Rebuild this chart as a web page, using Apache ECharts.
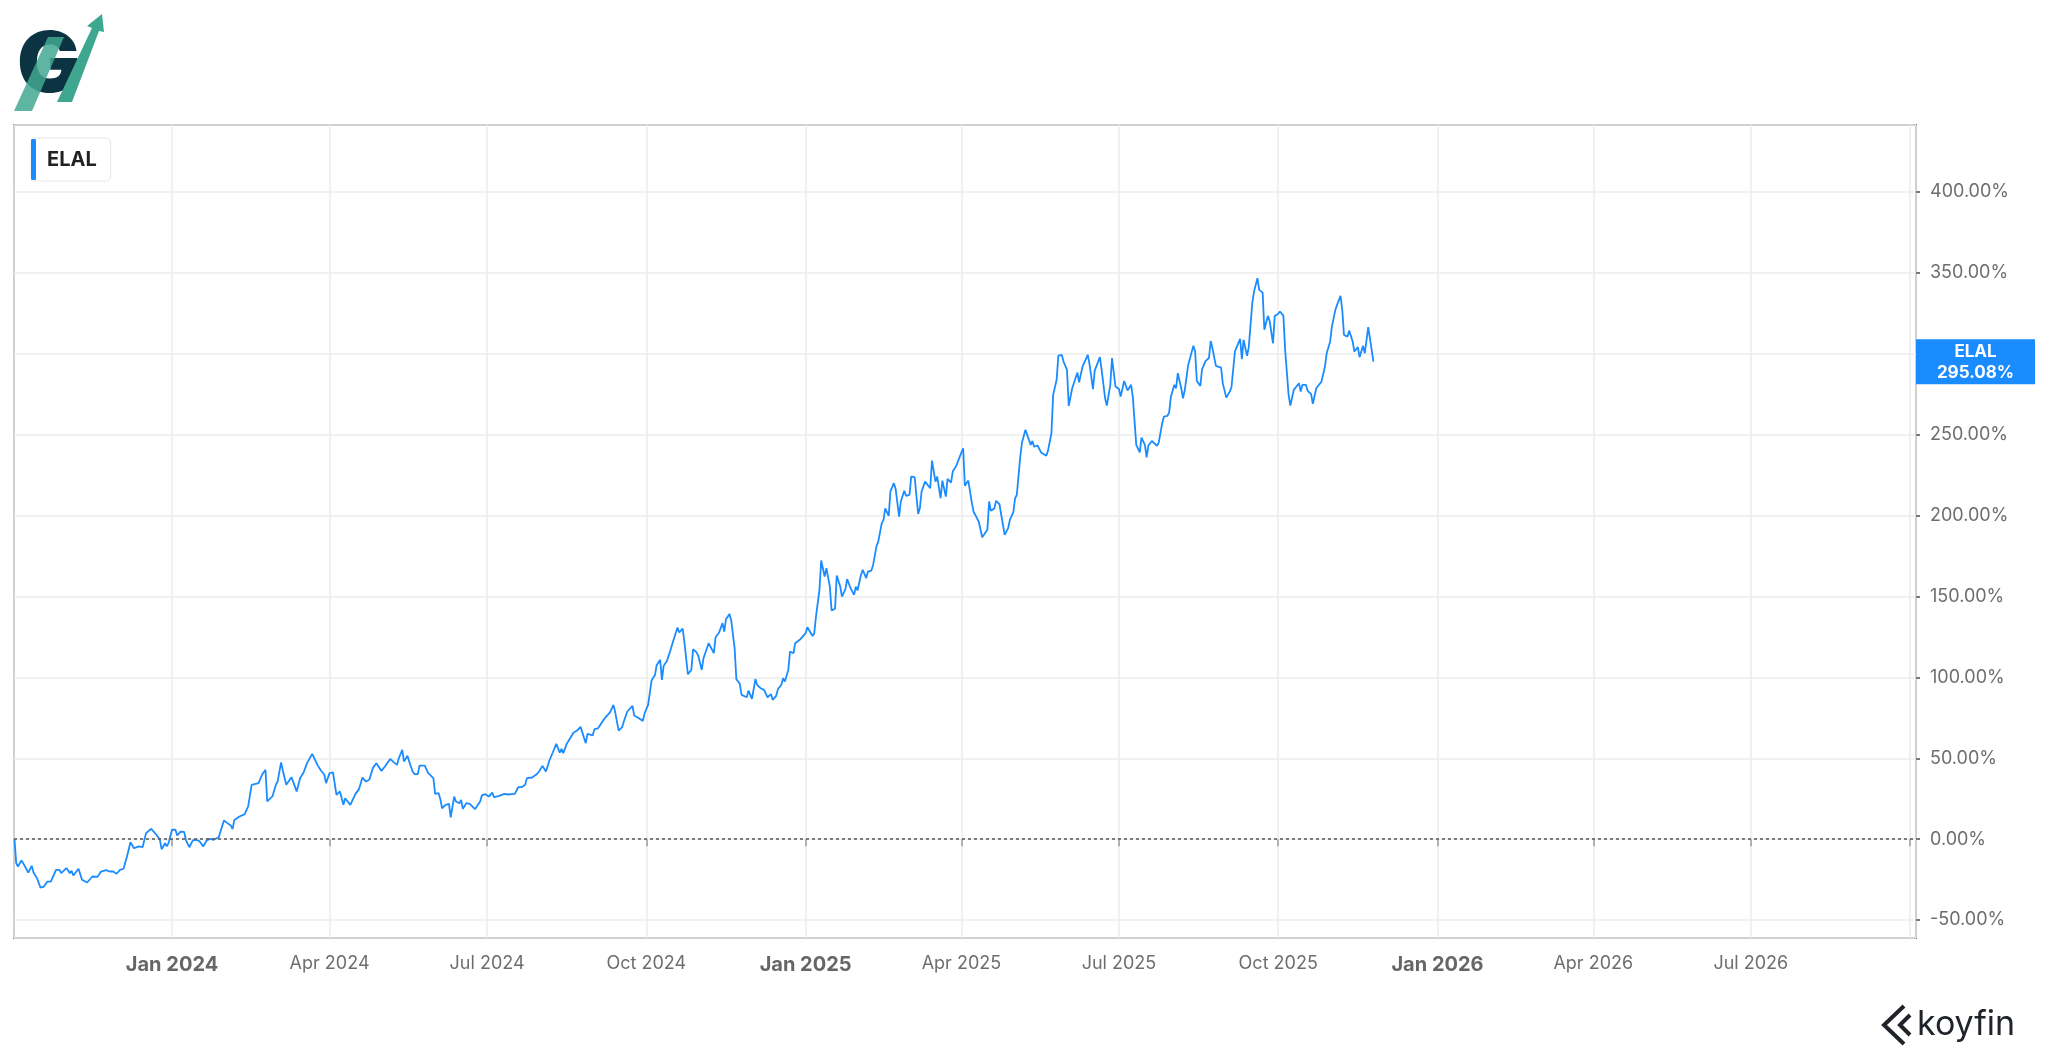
<!DOCTYPE html>
<html>
<head>
<meta charset="utf-8">
<script src="https://cdn.jsdelivr.net/npm/echarts@6/dist/echarts.min.js"></script>
<style>
html,body{margin:0;padding:0;background:#ffffff;}
#chart{width:2048px;height:1059px;}
</style>
</head>
<body>
<div id="chart"></div>
<script>
const seriesName = 'ELAL';
const lastLabel = '295.08%';
const lastValue = 295.08;

const dates = [
'2023-10-02','2023-10-03','2023-10-04','2023-10-06','2023-10-07','2023-10-08','2023-10-10','2023-10-12','2023-10-13','2023-10-15',
'2023-10-17','2023-10-19','2023-10-21','2023-10-22','2023-10-23','2023-10-26','2023-10-28','2023-10-29','2023-11-01','2023-11-03',
'2023-11-04','2023-11-05','2023-11-08','2023-11-10','2023-11-13','2023-11-16','2023-11-19','2023-11-21','2023-11-24','2023-11-26',
'2023-11-28','2023-11-30','2023-12-02','2023-12-04','2023-12-06','2023-12-08','2023-12-10','2023-12-13','2023-12-15','2023-12-17',
'2023-12-20','2023-12-23','2023-12-25','2023-12-26','2023-12-28','2023-12-29','2023-12-30','2024-01-01','2024-01-03','2024-01-04',
'2024-01-06','2024-01-08','2024-01-09','2024-01-11','2024-01-13','2024-01-15','2024-01-17','2024-01-19','2024-01-21','2024-01-23',
'2024-01-25','2024-01-28','2024-01-31','2024-02-02','2024-02-04','2024-02-05','2024-02-06','2024-02-07','2024-02-09','2024-02-12',
'2024-02-14','2024-02-16','2024-02-20','2024-02-22','2024-02-24','2024-02-25','2024-02-28','2024-03-01','2024-03-02','2024-03-04',
'2024-03-05','2024-03-07','2024-03-10','2024-03-13','2024-03-15','2024-03-17','2024-03-19','2024-03-22','2024-03-25','2024-03-27',
'2024-03-29','2024-03-30','2024-04-01','2024-04-03','2024-04-05','2024-04-07','2024-04-09','2024-04-10','2024-04-11','2024-04-13',
'2024-04-16','2024-04-18','2024-04-20','2024-04-22','2024-04-24',
'2024-04-26','2024-04-28','2024-04-29','2024-05-01','2024-05-03','2024-05-06','2024-05-08','2024-05-10','2024-05-11','2024-05-13',
'2024-05-14','2024-05-16','2024-05-17','2024-05-19','2024-05-20','2024-05-22','2024-05-23','2024-05-26','2024-05-28','2024-05-29',
'2024-05-31','2024-06-01','2024-06-03','2024-06-04','2024-06-05','2024-06-07','2024-06-09','2024-06-10','2024-06-12','2024-06-13',
'2024-06-15','2024-06-16','2024-06-17','2024-06-19','2024-06-21','2024-06-22','2024-06-24','2024-06-25','2024-06-27','2024-06-28',
'2024-06-30','2024-07-02','2024-07-04','2024-07-05','2024-07-06','2024-07-08','2024-07-09','2024-07-11','2024-07-13','2024-07-17',
'2024-07-19','2024-07-21','2024-07-23','2024-07-24','2024-07-27','2024-07-30','2024-07-31','2024-08-02','2024-08-03','2024-08-04',
'2024-08-06','2024-08-08','2024-08-09','2024-08-10','2024-08-12','2024-08-13','2024-08-14','2024-08-16','2024-08-18','2024-08-20',
'2024-08-22','2024-08-24','2024-08-25','2024-08-27','2024-08-28','2024-08-29','2024-08-31','2024-09-01','2024-09-03','2024-09-05',
'2024-09-07','2024-09-10','2024-09-12','2024-09-13','2024-09-15','2024-09-17','2024-09-18','2024-09-20','2024-09-21','2024-09-23',
'2024-09-24','2024-09-26','2024-09-27','2024-09-29','2024-09-30','2024-10-02','2024-10-03','2024-10-04','2024-10-06','2024-10-07',
'2024-10-09','2024-10-10','2024-10-11','2024-10-13','2024-10-15','2024-10-17','2024-10-19','2024-10-20','2024-10-22','2024-10-23',
'2024-10-25','2024-10-27','2024-10-28','2024-10-30','2024-10-31','2024-11-02','2024-11-03','2024-11-04','2024-11-06','2024-11-07',
'2024-11-09','2024-11-10','2024-11-12','2024-11-14','2024-11-15','2024-11-16','2024-11-18','2024-11-19','2024-11-21','2024-11-22',
'2024-11-24','2024-11-25','2024-11-26','2024-11-28','2024-11-29','2024-12-01','2024-12-03','2024-12-04','2024-12-06','2024-12-08',
'2024-12-09','2024-12-10','2024-12-12','2024-12-13','2024-12-15','2024-12-16','2024-12-18','2024-12-19','2024-12-20','2024-12-22',
'2024-12-23','2024-12-25','2024-12-26','2024-12-29',
'2025-01-01','2025-01-02','2025-01-03','2025-01-05','2025-01-06','2025-01-07','2025-01-09','2025-01-10','2025-01-12','2025-01-13',
'2025-01-15','2025-01-16','2025-01-18','2025-01-19','2025-01-21','2025-01-22','2025-01-24','2025-01-25','2025-01-27','2025-01-29',
'2025-01-30','2025-01-31','2025-02-02','2025-02-03','2025-02-05','2025-02-06','2025-02-08','2025-02-09','2025-02-11','2025-02-12',
'2025-02-14','2025-02-15','2025-02-16','2025-02-18','2025-02-19','2025-02-21','2025-02-22','2025-02-24','2025-02-25','2025-02-27',
'2025-02-28','2025-03-02','2025-03-03','2025-03-05','2025-03-07','2025-03-08','2025-03-09','2025-03-11','2025-03-12','2025-03-14',
'2025-03-15','2025-03-17','2025-03-18','2025-03-20','2025-03-21','2025-03-23','2025-03-24','2025-03-26','2025-03-27','2025-03-29',
'2025-03-30','2025-04-01','2025-04-02','2025-04-03','2025-04-05','2025-04-07','2025-04-08','2025-04-09','2025-04-11','2025-04-13',
'2025-04-14','2025-04-16','2025-04-17','2025-04-18','2025-04-20','2025-04-21','2025-04-23','2025-04-24','2025-04-26','2025-04-28',
'2025-04-29','2025-05-01','2025-05-02','2025-05-03','2025-05-05','2025-05-06','2025-05-08','2025-05-09','2025-05-11','2025-05-12',
'2025-05-13','2025-05-15','2025-05-17','2025-05-18','2025-05-20','2025-05-21','2025-05-23','2025-05-24','2025-05-26','2025-05-27',
'2025-05-29','2025-05-30','2025-06-01','2025-06-02','2025-06-04','2025-06-05','2025-06-07','2025-06-08','2025-06-10','2025-06-11',
'2025-06-13','2025-06-14','2025-06-16','2025-06-17',
'2025-06-20','2025-06-21','2025-06-23','2025-06-24','2025-06-26','2025-06-27','2025-06-29','2025-07-01','2025-07-02','2025-07-04',
'2025-07-05','2025-07-06','2025-07-08','2025-07-09','2025-07-11','2025-07-13','2025-07-14','2025-07-16','2025-07-17','2025-07-18',
'2025-07-20','2025-07-21','2025-07-23','2025-07-24','2025-07-26','2025-07-27','2025-07-29','2025-07-30','2025-07-31','2025-08-02',
'2025-08-03','2025-08-04','2025-08-06','2025-08-07','2025-08-08','2025-08-10','2025-08-13','2025-08-14','2025-08-15','2025-08-17',
'2025-08-18','2025-08-20','2025-08-22','2025-08-23','2025-08-24','2025-08-26','2025-08-27','2025-08-29','2025-08-30','2025-09-01',
'2025-09-03','2025-09-04','2025-09-06','2025-09-07','2025-09-09','2025-09-10','2025-09-11','2025-09-13','2025-09-14','2025-09-16',
'2025-09-17','2025-09-19','2025-09-20','2025-09-22','2025-09-23','2025-09-25','2025-09-26','2025-09-28','2025-09-29','2025-10-01',
'2025-10-02','2025-10-04','2025-10-05','2025-10-07','2025-10-08','2025-10-10','2025-10-11','2025-10-13','2025-10-14','2025-10-15',
'2025-10-17','2025-10-18','2025-10-20','2025-10-21','2025-10-23','2025-10-24','2025-10-26','2025-10-28','2025-10-29','2025-10-31',
'2025-11-01','2025-11-03','2025-11-04','2025-11-06','2025-11-07','2025-11-08','2025-11-10','2025-11-11','2025-11-13','2025-11-14',
'2025-11-16','2025-11-17','2025-11-19','2025-11-20','2025-11-22','2025-11-23','2025-11-25'
];

const values = [
0,-14.8,-16.9,-13.2,-14.8,-14.4,-20.6,-16.5,-20.6,-24.1,
-29.9,-29.3,-26.2,-25.5,-26.2,-19.0,-19.0,-21.0,-17.9,-21.0,
-19.6,-22.5,-18.3,-25.1,-26.8,-23.1,-23.3,-20.0,-19.2,-20.0,
-20.0,-21.4,-19.0,-18.3,-10.7,-1.9,-5.6,-4.5,-5.0,3.7,
6.4,2.7,-0.4,-6.2,-2.5,-4.5,-2.5,5.8,5.8,2.3,
4.7,4.5,-0.4,-5.0,-0.8,-0.4,-1.4,-4.5,-0.8,0.2,
-0.4,1.2,11.5,9.9,8.4,6.2,11.9,10.9,14.0,15.5,
20.2,33.6,34.6,39.8,42.9,23.3,26.4,33.6,35.6,47.4,
42.4,33.6,38.3,29.5,37.7,41.2,47.0,52.7,45.9,42.4,
39.8,34.6,40.8,41.2,27.4,29.5,21.2,25.3,25.3,21.2,
28.0,30.9,38.1,35.6,36.7,
43.9,46.9,48.0,42.2,44.9,49.6,47.6,45.9,50.0,55.2,
48.0,51.5,48.0,41.8,40.2,40.2,45.5,45.5,40.8,41.4,
37.7,28.0,28.4,24.7,19.1,21.2,21.8,13.4,26.3,23.3,
22.2,24.3,18.7,22.2,21.8,21.6,18.5,17.7,23.3,27.0,
27.8,26.3,28.8,25.9,27.0,26.8,28.0,28.0,27.6,28.0,
32.1,32.1,33.6,37.7,38.1,40.4,41.8,45.3,46.3,41.8,
48.6,53.7,54.6,58.9,53.5,55.8,53.1,58.9,62.4,65.9,
67.1,69.4,68.6,59.3,65.1,65.9,64.1,68.0,68.4,71.7,
74.8,78.3,83.0,78.5,67.1,69.2,72.7,78.9,79.5,82.4,
76.4,75.2,75.8,73.1,77.8,83.0,90.2,98.0,101.5,107.7,
110.8,98.4,107.1,110.4,117.0,124.2,130.8,127.7,130.2,121.7,
101.9,104.6,117.4,115.4,113.3,104.6,111.8,110.8,121.1,121.5,
115.0,124.8,127.7,133.5,128.3,135.9,139.2,135.5,118.0,98.9,
96.0,89.2,90.2,87.7,91.8,86.7,98.9,95.4,93.3,92.3,
92.5,87.7,89.6,86.1,88.6,92.7,95.4,99.5,97.4,104.6,
115.9,114.9,121.1,123.6,
127.3,131.0,131.8,125.6,127.3,137.6,154.1,172.2,162.3,167.5,
156.1,141.3,142.5,162.9,156.1,149.9,154.5,160.7,155.1,151.0,
156.1,153.7,163.4,166.4,161.3,165.4,166.0,169.5,181.3,184.0,
195.3,197.3,204.5,199.8,214.9,220.0,216.5,199.4,208.7,215.3,
212.2,212.8,224.1,223.7,201.0,204.5,214.9,221.0,220.6,216.9,
234.0,221.0,224.1,210.7,221.6,211.7,222.7,220.4,227.2,230.7,
230.9,239.0,241.6,218.4,221.6,208.0,202.5,202.5,196.3,186.6,
186.6,191.2,208.7,202.9,204.3,209.1,207.0,200.4,188.1,192.2,
197.3,202.1,210.7,212.8,236.5,245.1,253.0,251.9,243.7,246.1,
242.6,243.3,239.0,240.0,237.0,240.0,250.9,274.6,283.9,298.9,
299.3,295.2,290.0,267.8,278.7,279.8,288.4,282.4,292.2,293.2,
299.3,293.6,278.1,289.6,
297.9,290.0,272.5,268.0,280.8,297.3,279.7,278.3,273.5,283.2,
282.8,277.3,280.8,273.5,243.7,239.0,248.2,243.7,236.0,243.3,
246.1,246.8,243.1,245.2,257.1,261.2,261.6,263.7,273.5,280.8,
278.7,288.0,278.7,272.5,277.3,293.1,304.9,301.4,283.2,280.1,
290.4,295.5,297.4,307.9,303.4,292.5,293.1,291.4,281.7,272.9,
276.6,279.3,301.4,304.1,309.2,296.7,308.6,298.7,304.1,331.2,
338.4,346.7,339.5,337.8,314.8,323.4,320.5,306.5,323.4,324.7,
326.1,323.4,302.4,274.6,268.0,277.7,277.1,281.8,276.6,280.8,
280.8,277.1,275.0,269.1,278.7,280.1,282.8,292.1,300.3,307.6,
316.8,327.1,330.2,335.8,327.1,311.6,310.6,314.3,307.6,301.4,
304.1,297.9,304.9,300.3,316.4,315.2,295.08
];

const monthNames = ['Jan','Feb','Mar','Apr','May','Jun','Jul','Aug','Sep','Oct','Nov','Dec'];
const xLabelFirst = '2024-01-01';
const xLabelLast = '2026-07-01';

const xMin = '2023-10-01 17:30:00';
const xMax = '2026-10-04 10:00:00';
const yMin = -61.1;
const yMax = 441.4;

const GRID = { left: 14, top: 125, right: 132, bottom: 121 };
const lineColor = '#1a8cff';
const tp = s => echarts.time.parse(s).getTime();

const chart = echarts.init(document.getElementById('chart'), null, { renderer: 'canvas' });

const option = {
  animation: false,
  backgroundColor: '#ffffff',
  textStyle: { fontFamily: 'Inter' },
  grid: {
    left: GRID.left, top: GRID.top, right: GRID.right, bottom: GRID.bottom,
    show: true, borderColor: '#7d7d7d', borderWidth: 2, backgroundColor: 'transparent'
  },
  legend: {
    left: 31, top: 138,
    data: [seriesName],
    selectedMode: false,
    icon: 'roundRect',
    itemWidth: 5, itemHeight: 41,
    padding: [1, 14, 1, 0],
    borderColor: '#e6e6e6', borderWidth: 1, borderRadius: 5,
    backgroundColor: '#ffffff',
    textStyle: { fontFamily: 'Inter', fontWeight: 'bold', fontSize: 20, color: '#222222', padding: [0, 0, 0, 6] }
  },
  xAxis: {
    type: 'time',
    min: tp(xMin), max: tp(xMax),
    minInterval: 92 * 86400000, maxInterval: 92 * 86400000,
    axisLine: { show: false },
    axisTick: { show: true, length: 7, lineStyle: { color: '#9a9a9a', width: 1.5 } },
    splitLine: { show: true, lineStyle: { color: '#ececec', width: 1.5 } },
    axisLabel: {
      margin: 17,
      showMinLabel: false, showMaxLabel: false,
      hideOverlap: false,
      formatter: function (v) {
        if (v < tp(xLabelFirst) || v > tp(xLabelLast)) return '';
        const d = new Date(v);
        const m = d.getMonth();
        const s = monthNames[m] + ' ' + d.getFullYear();
        return m === 0 ? '{y|' + s + '}' : '{m|' + s + '}';
      },
      rich: {
        y: { fontFamily: 'Inter', fontWeight: 'bold', fontSize: 20, color: '#666666' },
        m: { fontFamily: 'Inter', fontSize: 18, color: '#6e6e6e' }
      }
    }
  },
  yAxis: {
    type: 'value',
    position: 'right',
    min: yMin, max: yMax,
    splitNumber: 10,
    axisLine: { show: false },
    axisTick: { show: true, length: 4, lineStyle: { color: '#777777', width: 2 } },
    splitLine: { show: true, lineStyle: { color: '#ececec', width: 1.5 } },
    axisLabel: {
      margin: 14,
      showMinLabel: false, showMaxLabel: false,
      fontFamily: 'Inter', fontSize: 18, color: '#6e6e6e',
      formatter: v => v.toFixed(2) + '%'
    }
  },
  series: [{
    type: 'line',
    name: seriesName,
    data: dates.map((d, i) => [d, values[i]]),
    showSymbol: false,
    symbol: 'none',
    lineStyle: { color: lineColor, width: 1.8 },
    itemStyle: { color: lineColor },
    markLine: {
      silent: true,
      symbol: 'none',
      label: { show: false },
      lineStyle: { type: [3, 3], color: '#555555', width: 1.5 },
      data: [{ yAxis: 0 }]
    }
  }],
  graphic: [
    { type: 'text', id: 'logoG', x: 17, y: 67, style: { text: 'G', font: '900 84px Inter', fill: '#0b3341', verticalAlign: 'middle' } },
    { type: 'polygon', id: 'logoS1', shape: { points: [[14,111],[32,111],[64,37],[48,37]] }, style: { fill: '#42a892', opacity: 0.85 } },
    { type: 'polygon', id: 'logoS2', shape: { points: [[57,102],[72,102],[99,31],[104,32],[102,14],[87,26],[92,28]] }, style: { fill: '#3fa68f' } },
    { type: 'polyline', id: 'kIcon1', shape: { points: [[1904,1006],[1884,1025],[1904,1044]] }, style: { stroke: '#20242a', lineWidth: 4, fill: null } },
    { type: 'polyline', id: 'kIcon2', shape: { points: [[1910,1015],[1900,1025],[1910,1035]] }, style: { stroke: '#20242a', lineWidth: 4, fill: null } },
    { type: 'text', id: 'koyfin', x: 1917, y: 1025, style: { text: 'koyfin', font: '400 34px Inter', fill: '#20242a', verticalAlign: 'middle' } }
  ]
};

chart.setOption(option);

// last-value tag on the right axis, positioned through the axis scale
const yPix = chart.convertToPixel({ yAxisIndex: 0 }, lastValue);
const tagLeft = 2048 - GRID.right;
chart.setOption({
  graphic: [
    { type: 'rect', id: 'tagBox', shape: { x: tagLeft, y: yPix - 22.5, width: 119, height: 45 }, style: { fill: lineColor }, z: 10 },
    { type: 'text', id: 'tagText', x: tagLeft + 59.5, y: yPix + 1, z: 11,
      style: { text: seriesName + '\n' + lastLabel, font: 'bold 17px Inter', fill: '#ffffff', align: 'center', verticalAlign: 'middle', lineHeight: 21 } }
  ]
});
</script>
</body>
</html>
